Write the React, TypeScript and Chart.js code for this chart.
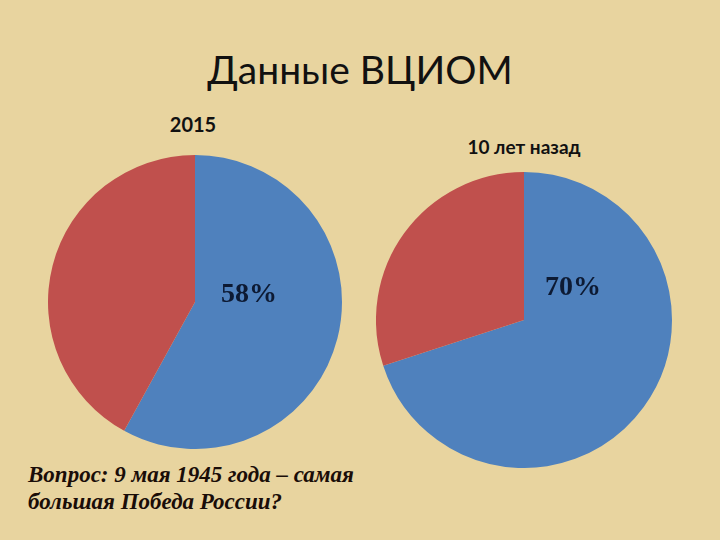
import React, { useEffect, useRef } from "react";
import { Chart, registerables } from "chart.js";

Chart.register(...registerables);

const titleText = "Данные ВЦИОМ";
const categories = ["Да", "Нет"];
const values2015 = [58, 42];
const valuesPast = [70, 30];
const label2015 = "2015";
const labelPast = "10 лет назад";
const questionLines = ["Вопрос: 9 мая 1945 года – самая", "большая Победа России?"];
const colors = ["#4F81BD", "#C0504D"];

function Pie({ values, size }: { values: number[]; size: number }) {
  const ref = useRef<HTMLCanvasElement | null>(null);
  useEffect(() => {
    if (!ref.current) return;
    const chart = new Chart(ref.current, {
      type: "pie",
      data: {
        labels: categories,
        datasets: [{ data: values, backgroundColor: colors, borderWidth: 0 }],
      },
      options: {
        responsive: false,
        animation: false,
        layout: { padding: 0 },
        plugins: { legend: { display: false }, tooltip: { enabled: false } },
      },
    });
    return () => chart.destroy();
  }, []);
  return <canvas ref={ref} width={size} height={size} style={{ width: size, height: size }} />;
}

export default function App() {
  const abs = (l: number, t: number): React.CSSProperties => ({ position: "absolute", left: l, top: t });
  return (
    <div
      style={{
        position: "absolute",
        left: 0,
        top: 0,
        width: 720,
        height: 540,
        overflow: "hidden",
        background: "#E8D49F",
      }}
    >
      <div
        style={{
          position: "absolute",
          left: 0,
          width: 720,
          top: 41,
          textAlign: "center",
          fontFamily: "Lato, 'Open Sans', sans-serif",
          fontSize: 39,
          color: "#111",
          lineHeight: "56px",
        }}
      >
        {titleText}
      </div>
      <div
        style={{
          position: "absolute",
          left: 93,
          width: 200,
          top: 111,
          textAlign: "center",
          fontFamily: "Lato, 'Open Sans', sans-serif",
          fontWeight: 700,
          fontSize: 20,
          color: "#111",
          lineHeight: "26px",
        }}
      >
        {label2015}
      </div>
      <div
        style={{
          position: "absolute",
          left: 424,
          width: 200,
          top: 134,
          textAlign: "center",
          fontFamily: "Lato, 'Open Sans', sans-serif",
          fontWeight: 700,
          fontSize: 19,
          color: "#111",
          lineHeight: "26px",
        }}
      >
        {labelPast}
      </div>
      <div style={abs(48, 155)}>
        <Pie values={values2015} size={294} />
      </div>
      <div style={abs(376, 172)}>
        <Pie values={valuesPast} size={296} />
      </div>
      <div
        style={{
          ...abs(221, 276),
          fontFamily: "'Liberation Serif', 'DejaVu Serif', serif",
          fontWeight: 700,
          fontSize: 28,
          color: "#0d1a33",
          lineHeight: "34px",
        }}
      >
        {values2015[0]}%
      </div>
      <div
        style={{
          ...abs(545, 269),
          fontFamily: "'Liberation Serif', 'DejaVu Serif', serif",
          fontWeight: 700,
          fontSize: 28,
          color: "#0d1a33",
          lineHeight: "34px",
        }}
      >
        {valuesPast[0]}%
      </div>
      <div
        style={{
          ...abs(28, 461),
          fontFamily: "'Liberation Serif', 'DejaVu Serif', serif",
          fontWeight: 700,
          fontStyle: "italic",
          fontSize: 23,
          color: "#1a0d08",
          lineHeight: "27px",
          whiteSpace: "nowrap",
        }}
      >
        {questionLines.map((l, i) => (
          <div key={i}>{l}</div>
        ))}
      </div>
    </div>
  );
}
